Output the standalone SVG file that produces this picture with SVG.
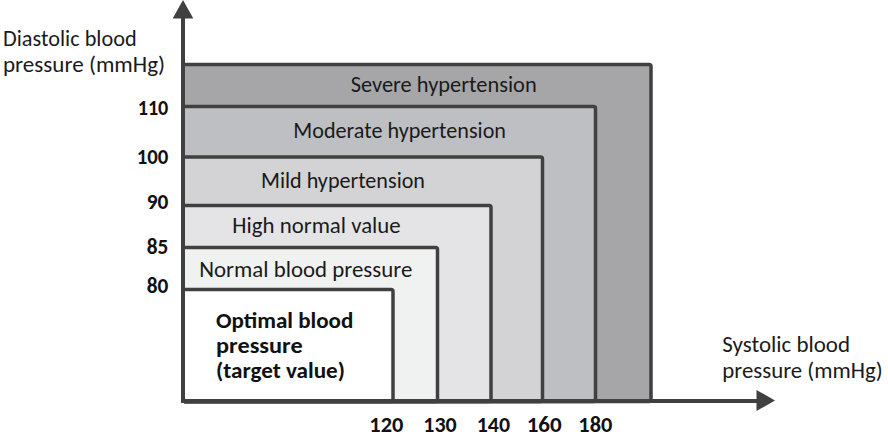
<svg xmlns="http://www.w3.org/2000/svg" width="888" height="440" viewBox="0 0 888 440">
<style>
.band{stroke:#404040;stroke-width:3.5}
.lbl{font-family:Carlito,Lato,"Open Sans",sans-serif;font-size:22px;fill:#1a1a1a}
.b{font-weight:bold;fill:#111}
.axis{stroke:#404040;stroke-width:4;fill:none}
.head{fill:#404040}
</style>
<rect width="888" height="440" fill="#ffffff"/>
<g id="severe">
<rect class="band" x="183" y="64.5" width="468" height="337" rx="2" fill="#a6a6a8"/>
<text class="lbl" x="350.7" y="91.7" textLength="186" lengthAdjust="spacingAndGlyphs">Severe hypertension</text>
</g>
<g id="moderate">
<rect class="band" x="183" y="106.5" width="412.5" height="295" rx="2" fill="#bebfc2"/>
<text class="lbl" x="293.3" y="138.3" textLength="212.7" lengthAdjust="spacingAndGlyphs">Moderate hypertension</text>
</g>
<g id="mild">
<rect class="band" x="183" y="157" width="359.5" height="244.5" rx="2" fill="#d3d3d5"/>
<text class="lbl" x="261" y="187.7" textLength="164" lengthAdjust="spacingAndGlyphs">Mild hypertension</text>
</g>
<g id="highnormal">
<rect class="band" x="183" y="205.5" width="308" height="196" rx="2" fill="#e4e4e6"/>
<text class="lbl" x="232.3" y="232.7" textLength="168.4" lengthAdjust="spacingAndGlyphs">High normal value</text>
</g>
<g id="normal">
<rect class="band" x="183" y="247.5" width="254.5" height="154" rx="2" fill="#f0f1f1"/>
<text class="lbl" x="199.3" y="276.7" textLength="213" lengthAdjust="spacingAndGlyphs">Normal blood pressure</text>
</g>
<g id="optimal">
<rect class="band" x="183" y="289.5" width="210" height="112" rx="2" fill="#ffffff"/>
<text class="lbl b" x="216" y="327.7" textLength="137.3" lengthAdjust="spacingAndGlyphs">Optimal blood</text>
<text class="lbl b" x="216" y="353.3" textLength="86.7" lengthAdjust="spacingAndGlyphs">pressure</text>
<text class="lbl b" x="216" y="378.3" textLength="129" lengthAdjust="spacingAndGlyphs">(target value)</text>
</g>
<g id="connectors">
<line class="axis" x1="183" y1="16" x2="183" y2="403"/>
<polygon class="head" points="183,0 172.7,18.5 193.3,18.5"/>
<line class="axis" x1="181" y1="401" x2="758" y2="401"/>
<polygon class="head" points="775,400.5 756.5,390 756.5,411"/>
</g>
<g id="yaxis-labels">
<text class="lbl" x="3" y="46" textLength="133.7" lengthAdjust="spacingAndGlyphs">Diastolic blood</text>
<text class="lbl" x="3" y="71.7" textLength="162" lengthAdjust="spacingAndGlyphs">pressure (mmHg)</text>
<g class="lbl b">
<text x="137.7" y="115" textLength="30.6" lengthAdjust="spacingAndGlyphs">110</text>
<text x="136.7" y="164" textLength="31.6" lengthAdjust="spacingAndGlyphs">100</text>
<text x="146.7" y="209.3" textLength="21.6" lengthAdjust="spacingAndGlyphs">90</text>
<text x="146.7" y="254.3" textLength="21.6" lengthAdjust="spacingAndGlyphs">85</text>
<text x="146.7" y="292.7" textLength="21.6" lengthAdjust="spacingAndGlyphs">80</text>
</g>
</g>
<g id="xaxis-labels">
<text class="lbl" x="722.3" y="352.3" textLength="127.7" lengthAdjust="spacingAndGlyphs">Systolic blood</text>
<text class="lbl" x="722.3" y="378.3" textLength="160.4" lengthAdjust="spacingAndGlyphs">pressure (mmHg)</text>
<g class="lbl b">
<text x="369.3" y="432.3" textLength="34" lengthAdjust="spacingAndGlyphs">120</text>
<text x="423.3" y="432.3" textLength="33.4" lengthAdjust="spacingAndGlyphs">130</text>
<text x="476.7" y="432.3" textLength="33.3" lengthAdjust="spacingAndGlyphs">140</text>
<text x="526.7" y="432.3" textLength="35" lengthAdjust="spacingAndGlyphs">160</text>
<text x="578.3" y="432.3" textLength="34" lengthAdjust="spacingAndGlyphs">180</text>
</g>
</g>
</svg>
